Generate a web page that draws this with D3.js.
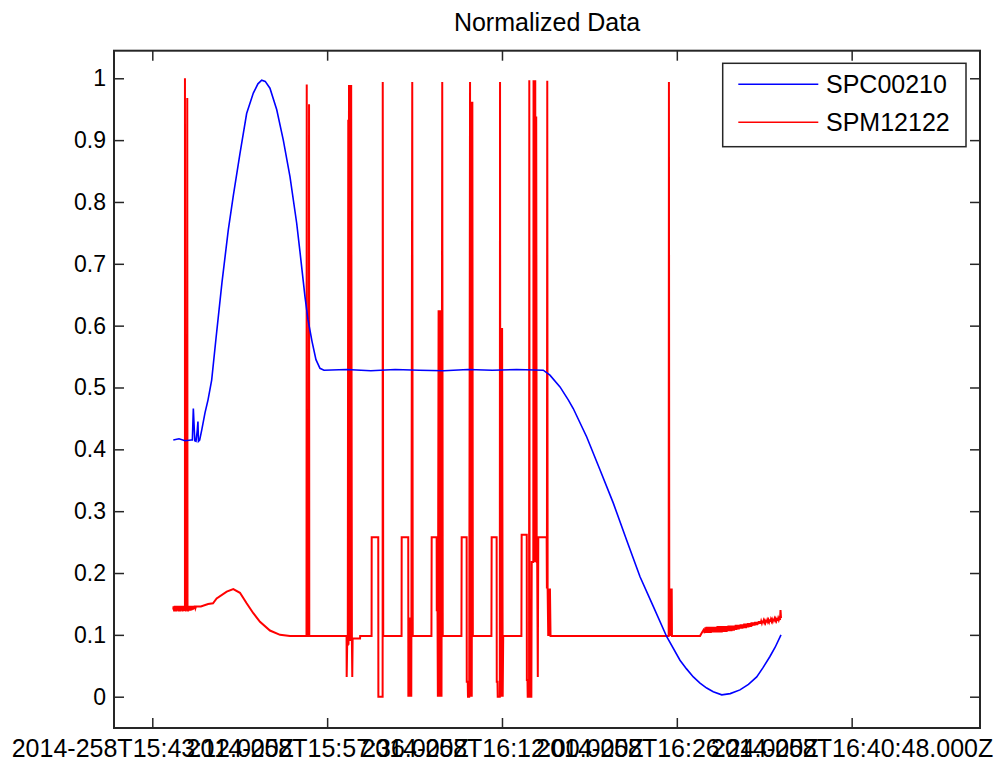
<!DOCTYPE html>
<html>
<head>
<meta charset="utf-8">
<script src="https://cdn.jsdelivr.net/npm/d3@7"></script>
<style>
  body { margin: 0; background: #ffffff; }
  svg text { font-family: "Liberation Sans", Arial, Helvetica, sans-serif; fill: #000; }
</style>
</head>
<body>
<svg id="chart" width="997" height="764"></svg>
<script>
// ---------------- data ----------------
const chartTitle = "Normalized Data";
const seriesNames = ["SPC00210", "SPM12122"];
const seriesColors = ["#0000ff", "#ff0000"];

// time in minutes after 2014-258T15:43:12.000Z
const xTickValues = [0, 14.4, 28.8, 43.2, 57.6];
const xTickLabels = [
  "2014-258T15:43:12.000Z",
  "2014-258T15:57:36.000Z",
  "2014-258T16:12:00.000Z",
  "2014-258T16:26:24.000Z",
  "2014-258T16:40:48.000Z"
];
const yTickValues = [0, 0.1, 0.2, 0.3, 0.4, 0.5, 0.6, 0.7, 0.8, 0.9, 1];
const yTickLabels = ["0", "0.1", "0.2", "0.3", "0.4", "0.5", "0.6", "0.7", "0.8", "0.9", "1"];

// SPC00210 (blue): [minutes, normalized value]
const spc00210 = [
  [1.73,0.415],[2.20,0.417],[2.70,0.414],[3.20,0.415],[3.30,0.415],[3.38,0.466],[3.50,0.414],
  [3.60,0.413],[3.70,0.430],[3.76,0.445],[3.80,0.413],[3.90,0.415],[4.07,0.431],[4.34,0.459],
  [4.59,0.480],[4.89,0.512],[5.25,0.580],[5.74,0.670],[6.26,0.755],[6.67,0.810],[7.22,0.878],
  [7.77,0.943],[8.32,0.976],[8.70,0.991],[9.01,0.997],[9.30,0.995],[9.69,0.984],[10.25,0.949],
  [10.79,0.900],[11.34,0.841],[11.89,0.766],[12.16,0.720],[12.58,0.646],[12.82,0.610],
  [13.15,0.575],[13.48,0.545],[13.81,0.531],[14.14,0.528],[16.0,0.529],[18.0,0.527],[20.0,0.529],
  [22.0,0.528],[24.0,0.527],[26.0,0.529],[28.0,0.528],[30.0,0.529],[32.20,0.528],[32.75,0.520],
  [33.58,0.501],[34.26,0.480],[34.67,0.466],[35.78,0.420],[36.87,0.367],[37.97,0.313],
  [39.07,0.253],[40.17,0.194],[41.26,0.146],[42.37,0.097],[43.46,0.059],[44.00,0.045],[44.56,0.032],
  [45.11,0.022],[45.66,0.014],[46.20,0.008],[46.90,0.003],[47.60,0.005],[48.40,0.011],[49.10,0.020],
  [49.78,0.032],[50.30,0.047],[50.87,0.065],[51.30,0.080],[51.78,0.100]
];

// SPM12122 (red): [minutes, normalized value]
const spm12122 = [
  [1.73,0.141],[1.75,0.146],[1.80,0.138],[1.85,0.147],[1.90,0.138],[1.95,0.147],[2.00,0.138],
  [2.05,0.147],[2.10,0.139],[2.15,0.147],[2.20,0.138],[2.25,0.147],[2.30,0.138],[2.35,0.147],
  [2.40,0.139],[2.45,0.147],[2.50,0.138],[2.55,0.147],[2.60,0.139],[2.65,0.146],[2.69,0.143],
  [2.69,1.000],[2.71,0.143],[2.75,0.138],[2.80,0.147],[2.85,0.139],[2.88,0.968],[2.90,0.146],
  [2.95,0.138],[3.00,0.147],[3.05,0.139],[3.10,0.147],[3.15,0.139],[3.20,0.147],[3.25,0.140],
  [3.30,0.147],[3.35,0.141],[3.40,0.147],[3.45,0.142],[3.50,0.147],[3.55,0.143],[3.60,0.146],
  [4.00,0.146],[4.60,0.150],[5.00,0.151],[5.30,0.159],[6.13,0.170],
  [6.67,0.174],[7.22,0.168],[7.77,0.151],[8.32,0.135],[8.87,0.121],[9.69,0.107],[10.52,0.100],
  [11.34,0.098],[12.70,0.098],[12.72,0.990],[12.74,0.098],[12.89,0.098],[12.91,0.958],[12.93,0.098],
  // burst A
  [16.00,0.098],[16.01,0.032],[16.05,0.084],[16.10,0.084],[16.14,0.933],[16.16,0.084],[16.20,0.989],
  [16.24,0.090],[16.28,0.989],[16.33,0.090],[16.38,0.989],[16.44,0.090],[16.47,0.032],[16.50,0.094],
  [17.11,0.094],[17.12,0.098],
  // burst B
  [18.06,0.098],[18.07,0.258],[18.61,0.258],[18.62,0.000],[18.97,0.000],[18.98,0.994],[19.02,0.098],
  // burst C
  [20.53,0.098],[20.54,0.258],[21.08,0.258],[21.09,0.000],[21.13,0.128],[21.17,0.000],[21.21,0.128],
  [21.25,0.000],[21.29,0.128],[21.33,0.000],[21.41,0.994],[21.45,0.098],
  // burst D
  [22.99,0.098],[23.01,0.258],[23.42,0.258],[23.43,0.140],[23.49,0.140],[23.52,0.000],[23.58,0.625],
  [23.62,0.000],[23.68,0.625],[23.72,0.000],[23.78,0.625],[23.82,0.000],[23.88,0.994],[23.92,0.098],
  // burst E
  [25.46,0.098],[25.48,0.258],[25.89,0.258],[25.90,0.024],[25.98,0.024],[26.00,0.000],[26.10,0.000],
  [26.17,0.994],[26.21,0.000],[26.27,0.962],[26.31,0.000],[26.36,0.962],[26.40,0.098],
  // burst F
  [27.93,0.098],[27.95,0.258],[28.36,0.258],[28.37,0.024],[28.43,0.024],[28.45,0.000],[28.62,0.000],
  [28.64,0.994],[28.67,0.000],[28.72,0.596],[28.76,0.000],[28.81,0.596],[28.86,0.000],[28.90,0.098],
  // burst G
  [30.40,0.098],[30.42,0.262],[30.84,0.262],[30.85,0.027],[30.90,0.027],[30.92,0.000],[31.03,0.000],
  [31.05,0.997],[31.08,0.000],[31.22,0.000],[31.25,0.218],[31.38,0.218],[31.40,0.997],[31.43,0.218],
  [31.46,0.938],[31.50,0.218],[31.54,0.997],[31.58,0.218],[31.62,0.938],[31.66,0.218],[31.70,0.218],
  [31.75,0.032],[31.79,0.258],[32.48,0.258],[32.50,0.175],[32.53,0.996],[32.56,0.175],[32.61,0.098],
  [32.65,0.175],[32.70,0.098],[32.75,0.175],[32.80,0.098],
  // later spike
  [42.53,0.098],[42.55,0.994],[42.58,0.098],[42.62,0.175],[42.66,0.098],[42.70,0.175],[42.74,0.098],
  [42.78,0.175],[42.80,0.098],
  // noisy tail
  [45.11,0.098],[45.25,0.103],[45.40,0.108],[45.50,0.103],
  [45.55,0.112],[45.60,0.103],[45.65,0.113],[45.70,0.103],[45.75,0.113],[45.80,0.103],[45.85,0.113],
  [45.90,0.103],[45.95,0.113],[46.00,0.103],[46.05,0.113],[46.10,0.104],[46.15,0.113],[46.20,0.104],
  [46.25,0.113],[46.30,0.104],[46.35,0.113],[46.40,0.104],[46.45,0.113],[46.50,0.104],[46.55,0.114],
  [46.60,0.104],[46.65,0.114],[46.70,0.104],[46.75,0.114],[46.80,0.104],[46.85,0.114],[46.90,0.104],
  [46.95,0.114],[47.00,0.105],[47.05,0.114],[47.10,0.105],[47.15,0.114],[47.20,0.105],[47.25,0.114],
  [47.30,0.105],[47.35,0.114],[47.40,0.106],[47.45,0.115],[47.50,0.106],[47.55,0.115],[47.60,0.106],
  [47.65,0.115],[47.70,0.106],[47.75,0.115],[47.80,0.107],[47.85,0.115],[47.90,0.107],[47.95,0.115],
  [48.00,0.108],[48.05,0.116],[48.10,0.108],[48.15,0.116],[48.20,0.109],[48.25,0.116],[48.30,0.109],
  [48.35,0.116],[48.40,0.110],[48.45,0.117],[48.50,0.110],[48.55,0.117],[48.60,0.110],[48.65,0.117],
  [48.70,0.111],[48.75,0.118],[48.80,0.111],[48.85,0.118],[48.90,0.111],[48.95,0.118],[49.00,0.112],
  [49.05,0.119],[49.10,0.112],[49.15,0.119],[49.20,0.113],[49.25,0.119],[49.30,0.113],[49.35,0.120],
  [49.40,0.114],[49.45,0.120],[49.50,0.115],[49.55,0.120],[49.60,0.115],[49.65,0.121],[49.70,0.116],
  [49.75,0.121],[49.80,0.116],[49.85,0.121],[49.90,0.117],[49.95,0.122],[50.00,0.118],[50.05,0.122],
  [50.10,0.118],[50.15,0.122],[50.20,0.119],[50.25,0.123],[50.30,0.119],[50.35,0.123],[50.40,0.120],
  [50.45,0.123],[50.50,0.120],[50.55,0.124],[50.60,0.120],[50.65,0.124],[50.70,0.121],[50.75,0.124],
  [50.80,0.121],[50.85,0.125],[50.90,0.121],[50.95,0.125],[51.00,0.122],[51.05,0.125],[51.10,0.122],
  [51.15,0.126],[51.20,0.122],[51.25,0.126],[51.30,0.123],[51.35,0.126],[51.40,0.123],[51.45,0.127],
  [51.50,0.123],[51.55,0.127],[51.60,0.124],[51.65,0.127],[51.70,0.124],[51.74,0.140],[51.78,0.127]
];

// ---------------- drawing ----------------
const svg = d3.select("#chart");
const plot = { left: 114, right: 980, top: 50.7, bottom: 728 };

const x = d3.scaleLinear().domain([-3.154, 68.17]).range([plot.left, plot.right]);
const y = d3.scaleLinear().domain([-0.0506, 1.0446]).range([plot.bottom, plot.top]);

const axisColor = "#262626";

// title
svg.append("text")
  .attr("x", (plot.left + plot.right) / 2)
  .attr("y", 31)
  .attr("text-anchor", "middle")
  .style("font-size", "25px")
  .text(chartTitle);

// lines
const line = d3.line().x(d => x(d[0])).y(d => y(d[1]));
svg.append("clipPath").attr("id", "clip")
  .append("rect").attr("x", plot.left).attr("y", plot.top)
  .attr("width", plot.right - plot.left).attr("height", plot.bottom - plot.top);

const g = svg.append("g").attr("clip-path", "url(#clip)");
g.append("path").datum(spm12122)
  .attr("fill", "none").attr("stroke", seriesColors[1]).attr("stroke-width", 2)
  .attr("d", line);
g.append("path").datum(spc00210)
  .attr("fill", "none").attr("stroke", seriesColors[0]).attr("stroke-width", 1.6)
  .attr("d", line);

// axes
const xAxisB = d3.axisBottom(x).tickValues(xTickValues)
  .tickFormat((d, i) => xTickLabels[i]).tickSizeInner(-10).tickSizeOuter(0).tickPadding(11);
const xAxisT = d3.axisTop(x).tickValues(xTickValues)
  .tickFormat("").tickSizeInner(-10).tickSizeOuter(0);
const yAxisL = d3.axisLeft(y).tickValues(yTickValues)
  .tickFormat((d, i) => yTickLabels[i]).tickSizeInner(-10).tickSizeOuter(0).tickPadding(8);
const yAxisR = d3.axisRight(y).tickValues(yTickValues)
  .tickFormat("").tickSizeInner(-10).tickSizeOuter(0);

function styleAxis(sel, size) {
  sel.select(".domain").remove();
  sel.selectAll(".tick line").attr("stroke", axisColor).attr("stroke-width", 1.5);
  sel.selectAll(".tick text").style("font-size", size + "px").attr("fill", "#000");
}
svg.append("g").attr("transform", `translate(0,${plot.bottom})`).call(xAxisB).call(styleAxis, 25);
svg.append("g").attr("transform", `translate(0,${plot.top})`).call(xAxisT).call(styleAxis, 25);
svg.append("g").attr("transform", `translate(${plot.left},0)`).call(yAxisL).call(styleAxis, 23);
svg.append("g").attr("transform", `translate(${plot.right},0)`).call(yAxisR).call(styleAxis, 23);

// frame
svg.append("rect")
  .attr("x", plot.left).attr("y", plot.top)
  .attr("width", plot.right - plot.left).attr("height", plot.bottom - plot.top)
  .attr("fill", "none").attr("stroke", axisColor).attr("stroke-width", 2);

// legend
const legend = svg.append("g");
legend.append("rect")
  .attr("x", 722.7).attr("y", 63.3).attr("width", 243.3).attr("height", 83.4)
  .attr("fill", "#fff").attr("stroke", axisColor).attr("stroke-width", 1.5);
seriesNames.forEach((name, i) => {
  const ly = 84.3 + i * 38;
  legend.append("line").attr("x1", 738.3).attr("x2", 818.3).attr("y1", ly).attr("y2", ly)
    .attr("stroke", seriesColors[i]).attr("stroke-width", 1.5);
  legend.append("text").attr("x", 826).attr("y", ly).attr("dy", "0.36em")
    .style("font-size", "25px").text(name);
});
</script>
</body>
</html>
